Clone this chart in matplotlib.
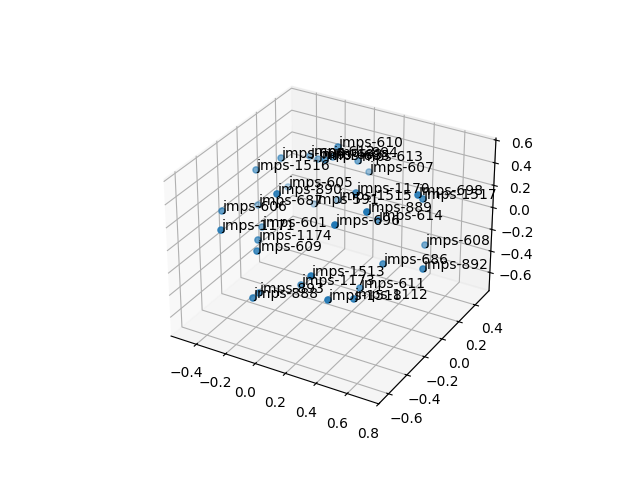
import matplotlib
matplotlib.use('Agg')
import matplotlib.pyplot as plt

# values (depth is estimated from the marker shading)
names = ['jmps-610', 'jmps-1516', 'jmps-604', 'jmps-612', 'jmps-603', 'jmps-685', 'jmps-894',
         'jmps-613', 'jmps-607', 'jmps-605', 'jmps-890', 'jmps-687', 'jmps-606', 'jmps-591',
         'jmps-1170', 'jmps-1515', 'jmps-698', 'jmps-1517', 'jmps-889', 'jmps-614', 'jmps-696',
         'jmps-608', 'jmps-686', 'jmps-892', 'jmps-1171', 'jmps-601', 'jmps-1174', 'jmps-609',
         'jmps-1513', 'jmps-1173', 'jmps-611', 'jmps-893', 'jmps-888', 'jmps-1518', 'jmps-1112']
xs = [0.051, -0.426, -0.317, -0.275, -0.229, 0.005, -0.056,
      0.077, -0.020, -0.554, 0.041, -0.555, -0.433, -0.395,
      0.295, -0.167, 0.717, 0.630, 0.567, 0.354, 0.450,
      0.538, 0.527, 0.779, -0.219, -0.312, -0.213, -0.058,
      0.359, 0.065, 0.362, -0.037, -0.019, 0.465, 0.518]
ys = [0.087, -0.034, 0.062, 0.304, 0.319, 0.023, 0.205,
      0.264, 0.553, 0.491, -0.522, 0.167, -0.370, 0.534,
      -0.119, 0.441, -0.172, 0.042, -0.457, 0.025, -0.590,
      0.248, -0.210, -0.208, -0.684, -0.152, -0.341, -0.579,
      -0.684, -0.330, -0.180, -0.600, -0.685, -0.684, -0.504]
zs = [0.595, 0.304, 0.385, 0.258, 0.237, 0.508, 0.392,
      0.365, 0.038, -0.254, 0.597, -0.200, 0.167, -0.387,
      0.422, -0.200, 0.597, 0.383, 0.597, 0.106, 0.538,
      -0.208, -0.044, 0.012, 0.305, -0.085, -0.027, 0.110,
      0.140, -0.328, -0.349, -0.235, -0.206, -0.022, -0.131]

x_limits = (-0.575, 0.80)
y_limits = (-0.705, 0.574)
z_limits = (-0.772, 0.618)

fig = plt.figure()
ax = fig.add_subplot(projection='3d')
ax.scatter(xs, ys, zs)
for name, x, y, z in zip(names, xs, ys, zs):
    ax.text(x, y, z, name)
ax.set_xlim(x_limits)
ax.set_ylim(y_limits)
ax.set_zlim(z_limits)

fig.savefig('out.png')
